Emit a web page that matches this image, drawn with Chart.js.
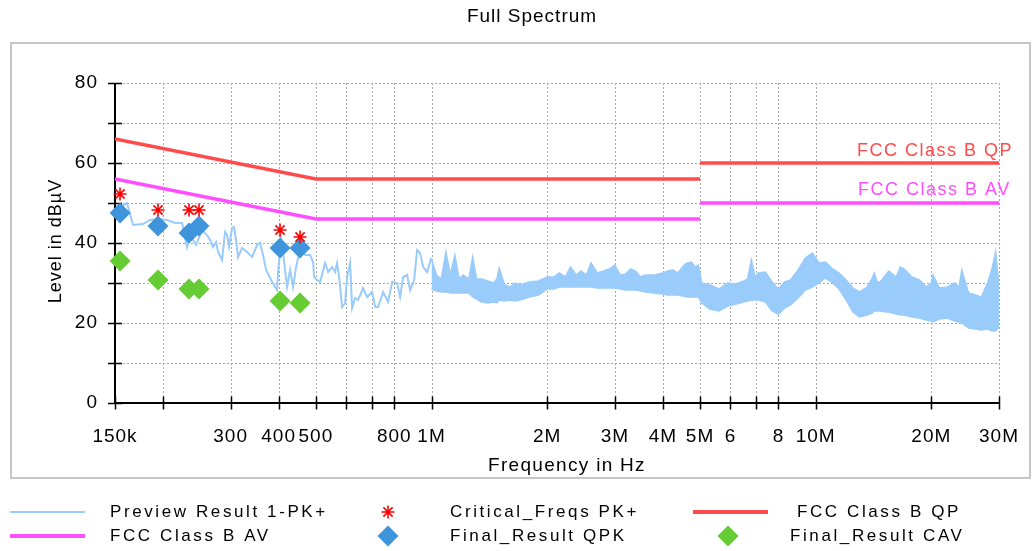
<!DOCTYPE html>
<html>
<head>
<meta charset="utf-8">
<title>Full Spectrum</title>
<script src="https://cdn.jsdelivr.net/npm/chart.js@4.4.1/dist/chart.umd.min.js"></script>
<style>
  html, body { margin: 0; padding: 0; background: #fff; }
</style>
</head>
<body>
<canvas id="spectrum" width="1036" height="551"></canvas>
<script>
// preview trace, 150 kHz .. 1 MHz (single line)
const traceFreqKHz = [150, 161.2, 167.1, 177.4, 185.0, 194.1, 204.9, 215.0, 224.2, 231.0, 235.2, 243.8,
  252.7, 260.4, 265.2, 270.0, 274.9, 278.2, 284.9, 290.1, 293.6, 297.2, 302.5, 306.2, 309.9, 313.6,
  321.2, 331.0, 341.1, 351.5, 357.8, 364.3, 371.0, 380.0, 391.5, 396.2, 398.6, 405.9, 410.8, 420.7,
  428.4, 436.2, 444.1, 454.8, 468.7, 483.0, 491.7, 494.7, 503.7, 512.8, 528.4, 538.0, 551.1, 561.1,
  567.8, 574.7, 585.1, 595.7, 602.9, 613.9, 621.3, 632.5, 644.0, 663.6, 679.7, 700.4, 713.1, 726.1,
  748.2, 771.0, 789.7, 813.7, 828.5, 843.5, 864.0, 879.7, 901.0, 917.4, 934.1, 951.0, 974.1, 997.8];
const traceLevel = [48.5, 50, 44.5, 44.75, 45.75, 46, 45.75, 45, 45, 39, 42, 39.5,
  43.25, 42, 40.75, 39, 40.25, 37.75, 35.75, 42.75, 42, 39, 43.75, 44, 40.75, 36.5,
  38.75, 37.75, 36.5, 39.5, 40, 37, 33.25, 31.25, 29, 28.25, 32.5, 41.5, 37.5, 29,
  33.25, 29, 34, 38.5, 37, 37, 35.25, 31.5, 30.75, 30.25, 35, 32.75, 34, 32.75,
  35, 31.5, 24, 25, 31.5, 35, 23.75, 26.25, 25.75, 28.75, 26.5, 27.75, 24, 24,
  27.75, 25.25, 30.25, 30, 26.5, 31.5, 32, 28.25, 30.75, 38.25, 37.5, 34, 32.75, 36.25];

// preview trace above 1 MHz is a dense band: upper / lower envelope
const bandFreqMHz = [1.0, 1.03, 1.06, 1.09, 1.12, 1.15, 1.18, 1.21, 1.25, 1.28, 1.31, 1.35, 1.4, 1.45, 1.48, 1.5,
  1.55, 1.6, 1.65, 1.7, 1.8, 1.9, 2.0, 2.08, 2.15, 2.23, 2.3, 2.38, 2.45, 2.53, 2.6, 2.7, 2.8, 2.9, 3.0,
  3.1, 3.2, 3.3, 3.4, 3.5, 3.6, 3.8, 4.0, 4.12, 4.25, 4.38, 4.5, 4.62, 4.75, 4.85, 4.95,
  5.05, 5.3, 5.6, 5.9, 6.2, 6.5, 6.65, 6.8, 6.95, 7.1, 7.4, 7.7, 8.0, 8.3, 8.6, 9.0, 9.4, 9.8,
  10.2, 10.6, 11.0, 11.5, 12.0, 12.5, 13.0, 13.6, 14.0, 14.2, 14.5, 14.8, 15.2, 15.5, 16.2, 16.6, 17.0,
  17.8, 18.6, 19.4, 20.0, 20.2, 21.0, 22, 23, 23.6, 24.0, 25, 26, 27, 28, 28.8, 29.4, 30];
const bandHi = [36, 32, 31, 37.75, 32, 37, 31, 32, 31, 36.5, 31, 31, 30.5, 30, 31, 33.75,
  29.5, 29, 30, 29.5, 30.25, 30.5, 31.5, 31.5, 32.5, 31.5, 34, 32, 33, 32, 35, 32.5, 33, 33.5, 34.5,
  32, 32.25, 33.5, 33, 31.5, 32, 32, 32.5, 33, 33.25, 32.5, 34, 35, 35.25, 34, 34.5,
  30, 29.5, 28.5, 30, 29.75, 30.5, 31, 35.75, 31.5, 32.5, 32.75, 30.25, 28.5, 30.25, 30.75, 33.25, 36.25, 37.5,
  35, 35.25, 33.75, 32.5, 30.75, 28.75, 27.75, 29, 31, 32.5, 30, 30.5, 32, 33, 31.5, 34, 33.5,
  31.5, 30.75, 29, 30, 32, 28.75, 29, 30, 29, 33.25, 27.5, 27, 26.5, 30, 33.75, 37.75, 29];
const bandLo = [28.5, 28, 27.75, 27.75, 27.5, 27.5, 27.5, 27.5, 27.5, 26.5, 26, 25.25, 25, 25.25, 25, 25.75,
  25.5, 25.75, 25.5, 25.75, 26.5, 27, 28.5, 28.5, 29, 29, 29, 29, 29, 29, 29, 28.75, 28.75, 28.75, 28.75,
  28.5, 28.25, 28.25, 28.25, 28, 27.75, 27.5, 27.25, 27, 27, 27, 26.75, 26.5, 26.5, 26.5, 26.5,
  25, 23.5, 23, 24.25, 24.75, 25.25, 25.5, 25.75, 25.75, 25.75, 25.25, 23, 22.25, 23.75, 24.5, 26.25, 28.25, 29,
  30, 31.25, 30.25, 28.5, 25.75, 22.75, 21.5, 22, 22.5, 23, 23, 23, 22.75, 22.75, 22.25, 22, 22,
  21.5, 21.25, 20.75, 20.5, 20.25, 21, 21.25, 20.5, 20.25, 20, 18.75, 18.5, 18.25, 18.5, 18, 18, 19];

// final measurement frequencies and results
const markerFreqKHz = [154.6, 194.1, 233.8, 248.2, 403.4, 454.8];
const criticalLevel = [52.25, 48.25, 48.25, 48.25, 43.25, 41.5];
const qpkLevel = [47.5, 44.25, 42.5, 44.25, 38.75, 38.75];
const cavLevel = [35.5, 30.75, 28.5, 28.5, 25.5, 25];

// FCC class B limits (null breaks the line at 5 MHz)
const limitFreqMHz = [0.15, 0.5, 5, 5, 5, 30];
const qpLimit = [66, 56, 56, null, 60, 60];
const avLimit = [56, 46, 46, null, 50, 50];

const xTickValues = [150e3, 200e3, 300e3, 400e3, 500e3, 600e3, 700e3, 800e3, 1e6,
  2e6, 3e6, 4e6, 5e6, 6e6, 7e6, 8e6, 10e6, 20e6, 30e6];
const xTickLabels = ['150k', '', '300', '400', '500', '', '', '800', '1M',
  '2M', '3M', '4M', '5M', '6', '', '8', '10M', '20M', '30M'];

const traceColor = '#99cbfb';
const qpColor = '#ff4b4b';
const avColor = '#ff4dff';
const qpkColor = '#3f95db';
const cavColor = '#66cc33';
const starColor = '#ff0000';
const gridColor = '#a8a8a8';
const font = 'Liberation Sans, Arial, sans-serif';

const pts = (xs, ys, k) => xs.map((x, i) => ({ x: x * k, y: ys[i] }));

function drawStar(ctx, x, y, r) {
  ctx.beginPath();
  for (let a = 0; a < 4; a++) {
    const ang = a * Math.PI / 4;
    ctx.moveTo(x - Math.sin(ang) * r, y - Math.cos(ang) * r);
    ctx.lineTo(x + Math.sin(ang) * r, y + Math.cos(ang) * r);
  }
  ctx.stroke();
}

function drawDiamond(ctx, x, y, r) {
  ctx.beginPath();
  ctx.moveTo(x, y - r);
  ctx.lineTo(x + r, y);
  ctx.lineTo(x, y + r);
  ctx.lineTo(x - r, y);
  ctx.closePath();
  ctx.fill();
}

const decorations = {
  id: 'decorations',
  beforeLayout(chart) { chart.ctx.letterSpacing = '1px'; },
  beforeDraw(chart) {
    const ctx = chart.ctx;
    ctx.save();
    ctx.fillStyle = '#fff';
    ctx.fillRect(0, 0, chart.width, chart.height);
    ctx.strokeStyle = '#c6c6c6';
    ctx.lineWidth = 2;
    ctx.strokeRect(11, 43, 1019, 435);
    ctx.restore();
    ctx.letterSpacing = '1px';
  },
  beforeDatasetsDraw(chart) {
    const ctx = chart.ctx;
    const { left, right, top, bottom } = chart.chartArea;
    const xs = chart.scales.x, ys = chart.scales.y;
    ctx.save();
    // dotted grid
    ctx.strokeStyle = gridColor;
    ctx.lineWidth = 1;
    ctx.setLineDash([2, 2]);
    ctx.beginPath();
    xTickValues.slice(1).forEach(v => {
      const px = Math.round(xs.getPixelForValue(v)) + 0.5;
      ctx.moveTo(px, top);
      ctx.lineTo(px, bottom);
    });
    for (let v = 10; v <= 80; v += 10) {
      const py = Math.round(ys.getPixelForValue(v)) + 0.5;
      ctx.moveTo(left, py);
      ctx.lineTo(right, py);
    }
    ctx.stroke();
    ctx.setLineDash([]);
    // axes with crossing tick marks
    ctx.strokeStyle = '#000';
    ctx.lineWidth = 2;
    ctx.beginPath();
    ctx.moveTo(left, top);
    ctx.lineTo(left, bottom);
    ctx.lineTo(right, bottom);
    ctx.stroke();
    ctx.lineWidth = 1.5;
    ctx.beginPath();
    xTickValues.forEach(v => {
      const px = Math.round(xs.getPixelForValue(v)) + 0.5;
      ctx.moveTo(px, bottom - 6.5);
      ctx.lineTo(px, bottom + 6.5);
    });
    for (let v = 0; v <= 80; v += 10) {
      const py = Math.round(ys.getPixelForValue(v)) + 0.5;
      ctx.moveTo(left - 7, py);
      ctx.lineTo(left + 7, py);
    }
    ctx.stroke();
    ctx.restore();
  },
  afterDraw(chart) {
    const ctx = chart.ctx;
    ctx.save();
    ctx.fillStyle = '#000';
    ctx.textBaseline = 'middle';
    ctx.textAlign = 'center';
    ctx.letterSpacing = '1px';
    ctx.font = '19px ' + font;
    ctx.fillText('Full Spectrum', 532, 17);
    ctx.letterSpacing = '1.3px';
    ctx.fillText('Frequency in Hz', 567, 466);
    ctx.save();
    ctx.translate(56, 241);
    ctx.rotate(-Math.PI / 2);
    ctx.font = '18px ' + font;
    ctx.letterSpacing = '1px';
    ctx.fillText('Level in dBµV', 0, 0);
    ctx.restore();

    // limit line labels
    ctx.textAlign = 'left';
    ctx.font = '18px ' + font;
    ctx.letterSpacing = '1.5px';
    ctx.fillStyle = qpColor;
    ctx.fillText('FCC Class B QP', 857, 151);
    ctx.fillStyle = avColor;
    ctx.fillText('FCC Class B AV', 858, 190);

    // legend
    const items = [
      { label: 'Preview Result 1-PK+', kind: 'line', color: traceColor, w: 2, mx: 10, tx: 110, y: 512 },
      { label: 'Critical_Freqs PK+', kind: 'star', color: starColor, mx: 388, tx: 450, y: 512 },
      { label: 'FCC Class B QP', kind: 'line', color: qpColor, w: 4, mx: 693, tx: 797, y: 512 },
      { label: 'FCC Class B AV', kind: 'line', color: avColor, w: 4, mx: 10, tx: 110, y: 536 },
      { label: 'Final_Result QPK', kind: 'diamond', color: qpkColor, mx: 388, tx: 450, y: 536 },
      { label: 'Final_Result CAV', kind: 'diamond', color: cavColor, mx: 728, tx: 790, y: 536 }
    ];
    ctx.font = '17px ' + font;
    ctx.letterSpacing = '2.6px';
    items.forEach(it => {
      ctx.strokeStyle = it.color;
      ctx.fillStyle = it.color;
      if (it.kind === 'line') {
        ctx.lineWidth = it.w;
        ctx.beginPath();
        ctx.moveTo(it.mx, it.y);
        ctx.lineTo(it.mx + 75, it.y);
        ctx.stroke();
      } else if (it.kind === 'star') {
        ctx.lineWidth = 1.6;
        drawStar(ctx, it.mx, it.y, 6.5);
      } else {
        drawDiamond(ctx, it.mx, it.y, 10.5);
      }
      ctx.fillStyle = '#000';
      ctx.fillText(it.label, it.tx, it.y);
    });
    ctx.restore();
  }
};

new Chart(document.getElementById('spectrum'), {
  type: 'line',
  data: {
    datasets: [
      {
        label: 'Critical_Freqs PK+',
        data: pts(markerFreqKHz, criticalLevel, 1e3),
        showLine: false,
        pointStyle: 'star',
        pointRadius: 6.5,
        pointBorderWidth: 1.6,
        borderColor: starColor,
        backgroundColor: starColor,
        clip: false
      },
      {
        label: 'Final_Result QPK',
        data: pts(markerFreqKHz, qpkLevel, 1e3),
        showLine: false,
        pointStyle: 'rectRot',
        pointRadius: 10.5,
        pointBorderWidth: 0,
        borderColor: qpkColor,
        backgroundColor: qpkColor,
        clip: false
      },
      {
        label: 'Final_Result CAV',
        data: pts(markerFreqKHz, cavLevel, 1e3),
        showLine: false,
        pointStyle: 'rectRot',
        pointRadius: 10.5,
        pointBorderWidth: 0,
        borderColor: cavColor,
        backgroundColor: cavColor,
        clip: false
      },
      {
        label: 'FCC Class B QP',
        data: pts(limitFreqMHz, qpLimit, 1e6),
        borderColor: qpColor,
        borderWidth: 3.5,
        pointRadius: 0,
        spanGaps: false
      },
      {
        label: 'FCC Class B AV',
        data: pts(limitFreqMHz, avLimit, 1e6),
        borderColor: avColor,
        borderWidth: 3.5,
        pointRadius: 0,
        spanGaps: false
      },
      {
        label: 'Preview Result 1-PK+',
        data: pts(traceFreqKHz, traceLevel, 1e3),
        borderColor: traceColor,
        borderWidth: 2,
        pointRadius: 0
      },
      {
        label: 'band low',
        data: pts(bandFreqMHz, bandLo, 1e6),
        borderColor: traceColor,
        borderWidth: 1.5,
        pointRadius: 0,
        fill: false
      },
      {
        label: 'band high',
        data: pts(bandFreqMHz, bandHi, 1e6),
        borderColor: traceColor,
        backgroundColor: traceColor,
        borderWidth: 1.5,
        pointRadius: 0,
        fill: '-1'
      }
    ]
  },
  options: {
    responsive: false,
    animation: false,
    devicePixelRatio: 1,
    layout: { padding: { left: 0, right: 37, top: 83, bottom: 0 } },
    plugins: {
      legend: { display: false },
      title: { display: false },
      tooltip: { enabled: false }
    },
    scales: {
      x: {
        type: 'logarithmic',
        min: 150e3,
        max: 30e6,
        afterBuildTicks: s => { s.ticks = xTickValues.map(v => ({ value: v })); },
        afterFit: s => { s.height = 148; },
        grid: { display: false },
        border: { display: false },
        ticks: {
          autoSkip: false,
          maxRotation: 0,
          minRotation: 0,
          padding: 14,
          color: '#000',
          font: { family: font, size: 19 },
          callback: (v, i) => xTickLabels[i]
        }
      },
      y: {
        min: 0,
        max: 80,
        afterFit: s => { s.width = 115; },
        grid: { display: false },
        border: { display: false },
        ticks: {
          stepSize: 10,
          padding: 9,
          color: '#000',
          font: { family: font, size: 19 },
          callback: v => (v % 20 === 0 ? String(v) : '')
        }
      }
    }
  },
  plugins: [decorations]
});
</script>
</body>
</html>
